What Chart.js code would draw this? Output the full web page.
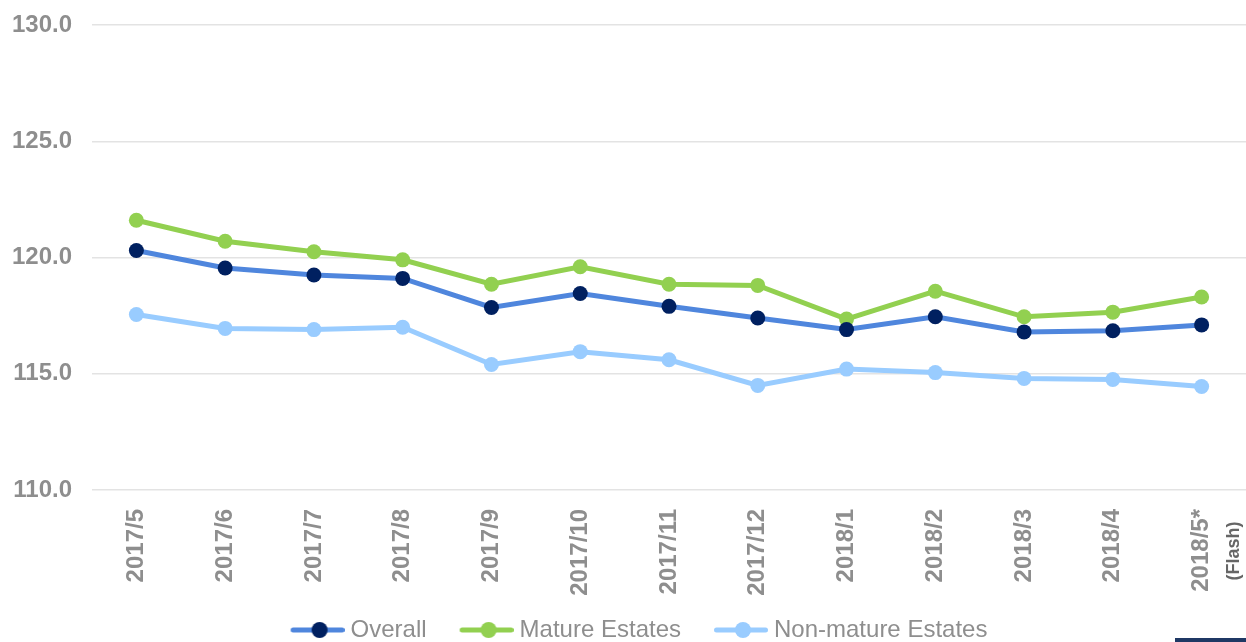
<!DOCTYPE html>
<html>
<head>
<meta charset="utf-8">
<script src="https://cdn.jsdelivr.net/npm/chart.js@4"></script>
<style>
  html, body { margin: 0; padding: 0; background: #fff; }
  #wrap { position: relative; width: 1246px; height: 642px; overflow: hidden; }
  #corner { position: absolute; left: 1175px; top: 638px; width: 71px; height: 4px; background: #1f3864; }
</style>
</head>
<body>
<div id="wrap">
  <canvas id="myChart"></canvas>
  <div id="corner"></div>
</div>
<script>
var months = ['2017/5', '2017/6', '2017/7', '2017/8', '2017/9', '2017/10', '2017/11',
    '2017/12', '2018/1', '2018/2', '2018/3', '2018/4', '2018/5*'];
var overall = [120.3, 119.55, 119.25, 119.1, 117.85, 118.45, 117.9, 117.4, 116.9, 117.45, 116.8, 116.85, 117.1];
var mature = [121.6, 120.7, 120.25, 119.9, 118.85, 119.6, 118.85, 118.8, 117.35, 118.55, 117.45, 117.65, 118.3];
var nonMature = [117.55, 116.95, 116.9, 117.0, 115.4, 115.95, 115.6, 114.5, 115.2, 115.05, 114.8, 114.75, 114.45];
var yTicks = [110, 115, 120, 125, 130];
var flashNote = '(Flash)';

var grey = '#8e8e8e';
var boxW = 72;

// legend icon: line with a dot in the middle, left part transparent
function legendIcon(lineColor, dotColor) {
    var c = document.createElement('canvas');
    var w = boxW + 12;
    c.width = w;
    c.height = 20;
    var g = c.getContext('2d');
    g.strokeStyle = lineColor;
    g.lineWidth = 5;
    g.lineCap = 'round';
    g.beginPath();
    g.moveTo(w - 51.5, 10);
    g.lineTo(w - 2.5, 10);
    g.stroke();
    g.fillStyle = dotColor;
    g.beginPath();
    g.arc(w - 25, 10, 8, 0, Math.PI * 2);
    g.fill();
    return c;
}
var icons = [
    legendIcon('#4f86dd', '#002060'),
    legendIcon('#92d050', '#92d050'),
    legendIcon('#99ccff', '#99ccff')
];

var flashPlugin = {
    id: 'flash',
    afterDraw: function(chart) {
        var x = chart.scales.x;
        var ctx = chart.ctx;
        ctx.save();
        ctx.translate(x.getPixelForTick(months.length - 1) + 32, chart.chartArea.bottom + 61);
        ctx.rotate(-Math.PI / 2);
        ctx.font = 'bold 18px "Liberation Sans", Arial, sans-serif';
        ctx.fillStyle = '#666666';
        ctx.textAlign = 'center';
        ctx.textBaseline = 'middle';
        ctx.fillText(flashNote, 0, 0);
        ctx.restore();
    }
};

var ctx = document.getElementById('myChart').getContext('2d');
var myChart = new Chart(ctx, {
    type: 'line',
    data: {
        labels: months,
        datasets: [{
            label: 'Overall',
            data: overall,
            borderColor: '#4f86dd',
            backgroundColor: '#002060',
            pointBackgroundColor: '#002060',
            pointBorderWidth: 0,
            pointRadius: 7.5,
            borderWidth: 5
        }, {
            label: 'Mature Estates',
            data: mature,
            borderColor: '#92d050',
            backgroundColor: '#92d050',
            pointBackgroundColor: '#92d050',
            pointBorderWidth: 0,
            pointRadius: 7.5,
            borderWidth: 5
        }, {
            label: 'Non-mature Estates',
            data: nonMature,
            borderColor: '#99ccff',
            backgroundColor: '#99ccff',
            pointBackgroundColor: '#99ccff',
            pointBorderWidth: 0,
            pointRadius: 7.5,
            borderWidth: 5
        }]
    },
    options: {
        responsive: true,
        maintainAspectRatio: false,
        animation: false,
        layout: {
            autoPadding: false,
            padding: { top: 25, left: 0, right: -8, bottom: -10 }
        },
        plugins: {
            tooltip: { enabled: false },
            legend: {
                position: 'bottom',
                labels: {
                    usePointStyle: true,
                    pointStyleWidth: boxW,
                    padding: 9,
                    color: grey,
                    font: { family: '"Liberation Sans", Arial, sans-serif', size: 24 },
                    generateLabels: function(chart) {
                        var items = Chart.defaults.plugins.legend.labels.generateLabels(chart);
                        return items.map(function(item, i) {
                            item.pointStyle = icons[i];
                            return item;
                        });
                    }
                }
            }
        },
        scales: {
            x: {
                offset: true,
                grid: { display: false },
                border: { display: false },
                afterFit: function(scale) { scale.height = 119; },
                ticks: {
                    minRotation: 90,
                    maxRotation: 90,
                    padding: 11,
                    color: grey,
                    font: { family: '"Liberation Sans", Arial, sans-serif', size: 24, weight: 'bold' }
                }
            },
            y: {
                min: 110,
                max: 130,
                afterFit: function(scale) {
                    scale.width = 92;
                    scale.paddingTop = 14;
                    scale.paddingBottom = 14;
                },
                afterBuildTicks: function(scale) {
                    scale.ticks = yTicks.map(function(v) { return { value: v }; });
                },
                grid: { color: '#e3e3e3', lineWidth: 1.5, drawTicks: false },
                border: { display: false },
                ticks: {
                    padding: 20,
                    color: grey,
                    font: { family: '"Liberation Sans", Arial, sans-serif', size: 24, weight: 'bold' },
                    callback: function(value) { return Number(value).toFixed(1); }
                }
            }
        }
    },
    plugins: [flashPlugin]
});
</script>
</body>
</html>
